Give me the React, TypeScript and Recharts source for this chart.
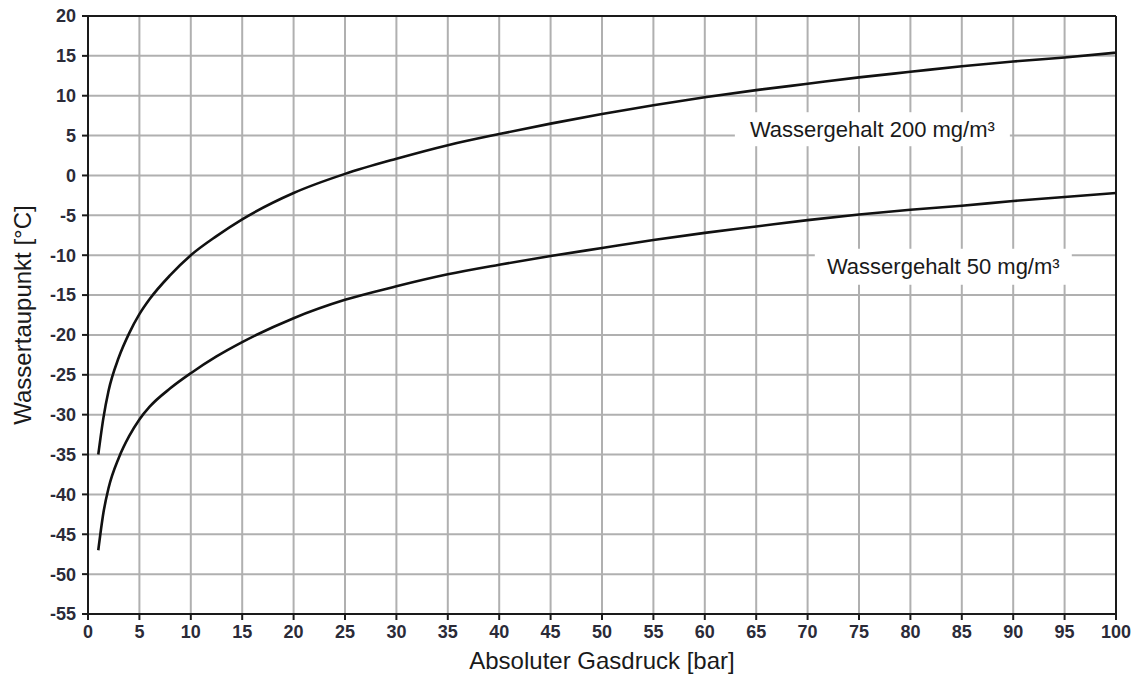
import React from "react";
import {
  CartesianGrid,
  Label,
  Line,
  LineChart,
  ReferenceDot,
  ReferenceLine,
  XAxis,
  YAxis
} from "recharts";

// Absoluter Gasdruck [bar]
const pressure = [1, 1.5, 2, 3, 4, 5, 6, 8, 10, 12.5, 15, 20, 25, 30, 35, 40, 45, 50, 55, 60, 65, 70, 75, 80, 85, 90, 95, 100];

// Wassertaupunkt [°C] bei 200 mg/m³
const dewPoint200 = [-35, -30.4, -27, -22.8, -19.8, -17.4, -15.5, -12.5, -10, -7.6, -5.5, -2.2, 0.2, 2.1, 3.8, 5.2, 6.5, 7.7, 8.8, 9.8, 10.7, 11.5, 12.3, 13.0, 13.7, 14.3, 14.8, 15.4];

// Wassertaupunkt [°C] bei 50 mg/m³
const dewPoint50 = [-47, -42.3, -39.2, -35.4, -32.7, -30.6, -29.0, -26.7, -24.8, -22.7, -20.9, -17.9, -15.6, -13.9, -12.4, -11.2, -10.1, -9.1, -8.1, -7.2, -6.4, -5.6, -4.9, -4.3, -3.8, -3.2, -2.7, -2.2];

const xTicks = [0, 5, 10, 15, 20, 25, 30, 35, 40, 45, 50, 55, 60, 65, 70, 75, 80, 85, 90, 95, 100];
const yTicks = [-55, -50, -45, -40, -35, -30, -25, -20, -15, -10, -5, 0, 5, 10, 15, 20];

const annotations = [
  { text: "Wassergehalt 200 mg/m³", x: 76.3, y: 5.8, width: 275, height: 34 },
  { text: "Wassergehalt 50 mg/m³", x: 83.2, y: -11.45, width: 257, height: 36 }
];

const data = pressure.map((p, i) => ({ p, w200: dewPoint200[i], w50: dewPoint50[i] }));

const ink = "#1a1a1a";
const tickStyle = { fontSize: 18, fontWeight: 700, fill: "#2b2b38" };

function BoxedLabel({ cx, cy, text, width, height }: any) {
  if (cx == null || cy == null) return null;
  return (
    <g>
      <rect x={cx - width / 2} y={cy - height / 2} width={width} height={height} fill="#fff" />
      <text x={cx} y={cy} textAnchor="middle" dominantBaseline="central" fontSize={22} fill={ink}>
        {text}
      </text>
    </g>
  );
}

export default function App() {
  return (
    <div
      style={{
        position: "absolute",
        left: 0,
        top: 0,
        width: 1145,
        height: 688,
        background: "#fff",
        fontFamily: "'Liberation Sans', Arial, sans-serif"
      }}
    >
      <LineChart width={1145} height={688} data={data} margin={{ top: 16, right: 29, left: 0, bottom: 0 }}>
        <CartesianGrid stroke="#b0b0b0" strokeWidth={2} />
        <XAxis
          dataKey="p"
          type="number"
          domain={[0, 100]}
          ticks={xTicks}
          interval={0}
          height={74}
          stroke={ink}
          strokeWidth={2}
          tickSize={6}
          tickMargin={5}
          tick={tickStyle}
        >
          <Label
            content={(props: any) => {
              const vb = props.viewBox || { x: 88, y: 614, width: 1028, height: 74 };
              return (
                <text
                  x={vb.x + vb.width / 2}
                  y={vb.y + 46}
                  textAnchor="middle"
                  dominantBaseline="central"
                  fontSize={24}
                  fill={ink}
                >
                  Absoluter Gasdruck [bar]
                </text>
              );
            }}
          />
        </XAxis>
        <YAxis
          type="number"
          domain={[-55, 20]}
          ticks={yTicks}
          interval={0}
          width={88}
          stroke={ink}
          strokeWidth={2}
          tickSize={6}
          tickMargin={6}
          tick={tickStyle}
        >
          <Label
            content={(props: any) => {
              const vb = props.viewBox || { x: 0, y: 16, width: 88, height: 598 };
              const lx = vb.x + 22;
              const ly = vb.y + vb.height / 2;
              return (
                <text
                  x={lx}
                  y={ly}
                  transform={`rotate(-90, ${lx}, ${ly})`}
                  textAnchor="middle"
                  dominantBaseline="central"
                  fontSize={24}
                  fill={ink}
                >
                  Wassertaupunkt [°C]
                </text>
              );
            }}
          />
        </YAxis>
        <ReferenceLine y={20} stroke={ink} strokeWidth={2} />
        <ReferenceLine x={100} stroke={ink} strokeWidth={2} />
        <Line type="monotone" dataKey="w200" stroke="#111" strokeWidth={2.6} dot={false} isAnimationActive={false} />
        <Line type="monotone" dataKey="w50" stroke="#111" strokeWidth={2.6} dot={false} isAnimationActive={false} />
        {annotations.map((a) => (
          <ReferenceDot
            key={a.text}
            x={a.x}
            y={a.y}
            r={0}
            shape={(props: any) => (
              <BoxedLabel cx={props.cx} cy={props.cy} text={a.text} width={a.width} height={a.height} />
            )}
          />
        ))}
      </LineChart>
    </div>
  );
}
